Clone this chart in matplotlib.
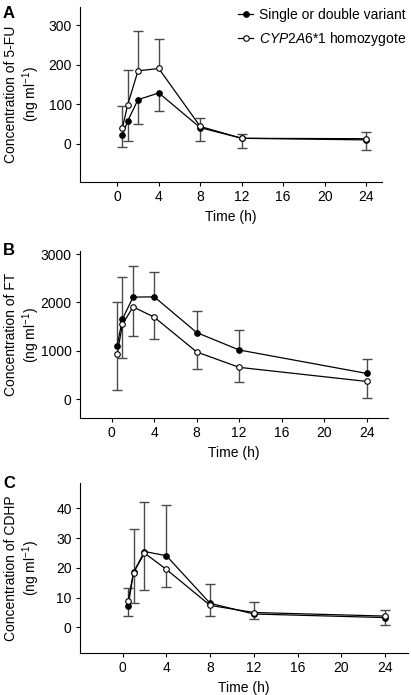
import numpy as np
import matplotlib
matplotlib.use("Agg")
import matplotlib.pyplot as plt
from matplotlib.transforms import blended_transform_factory

plt.rcParams['font.family'] = ['Liberation Sans', 'DejaVu Sans']
plt.rcParams['font.size'] = 10
plt.rcParams['mathtext.fontset'] = 'custom'
plt.rcParams['mathtext.rm'] = 'Liberation Sans'
plt.rcParams['mathtext.it'] = 'Liberation Sans:italic'

# Sampling times (h)
time = [0.5, 1, 2, 4, 8, 12, 24]

# Panel A: 5-FU
fu_variant = [22, 58, 112, 129, 41, 14, 10]
fu_wt = [41, 99, 185, 191, 44, 14, 13]
fu_variant_lo = [31, 50, 62, 45, 34, 24, 26]
fu_variant_hi = [0, 0, 0, 0, 0, 0, 0]
fu_wt_lo = [0, 0, 0, 0, 0, 0, 0]
fu_wt_hi = [55, 88, 102, 75, 22, 11, 16]

# Panel B: FT
ft_variant = [1106, 1655, 2110, 2115, 1376, 1016, 532]
ft_wt = [927, 1545, 1908, 1694, 975, 657, 366]
ft_variant_lo = [0, 0, 0, 0, 0, 0, 0]
ft_variant_hi = [909, 878, 650, 512, 442, 415, 304]
ft_wt_lo = [740, 693, 611, 450, 360, 311, 345]
ft_wt_hi = [0, 0, 0, 0, 0, 0, 0]

# Panel C: CDHP
cd_variant = [7.2, 18.5, 25.5, 24.1, 8.1, 4.5, 3.3]
cd_wt = [9.0, 18.4, 25.0, 19.5, 7.4, 5.0, 3.8]
cd_variant_lo = [3.3, 0, 0, 0, 0, 1.7, 2.5]
cd_variant_hi = [0, 14.6, 16.5, 17.0, 6.6, 0, 0]
cd_wt_lo = [0, 10.3, 12.6, 6.0, 3.5, 0, 0]
cd_wt_hi = [4.3, 0, 0, 0, 0, 3.6, 2.0]

xticks = [0, 4, 8, 12, 16, 20, 24]
err_color = '#4a4a4a'


def draw_bars(ax, y, lo, hi):
    t = np.array(time)
    y = np.array(y, dtype=float)
    lo = np.array(lo, dtype=float)
    hi = np.array(hi, dtype=float)
    ax.vlines(t, y - lo, y + hi, color=err_color, lw=1.0, zorder=1)
    m = lo > 0
    ax.plot(t[m], (y - lo)[m], ls='none', marker='_', ms=6.5, mew=1.0,
            color=err_color, zorder=1)
    m = hi > 0
    ax.plot(t[m], (y + hi)[m], ls='none', marker='_', ms=6.5, mew=1.0,
            color=err_color, zorder=1)


def panel(ax, variant, wt, v_lo, v_hi, w_lo, w_hi, ylabel, yticks, xlim, ylim, letter, label_y):
    draw_bars(ax, variant, v_lo, v_hi)
    draw_bars(ax, wt, w_lo, w_hi)
    ax.plot(time, variant, color='black', lw=0.9, marker='o', ms=4.0,
            mfc='black', mec='black', mew=0.8, zorder=3,
            label='Single or double variant')
    ax.plot(time, wt, color='black', lw=0.9, marker='o', ms=4.0,
            mfc='white', mec='black', mew=0.8, zorder=3,
            label='$\\mathit{CYP2A6{*}1}$ homozygote')
    ax.set_xlim(xlim)
    ax.set_ylim(ylim)
    ax.set_xticks(xticks)
    ax.set_yticks(yticks)
    ax.spines['top'].set_visible(False)
    ax.spines['right'].set_visible(False)
    ax.tick_params(direction='out', length=3, width=0.8, labelsize=10, pad=3)
    ax.set_xlabel('Time (h)', fontsize=10, labelpad=4)
    ax.set_ylabel(ylabel, fontsize=10, multialignment='center', linespacing=1.1)
    ax.yaxis.set_label_coords(41.5 / 411, 0.5,
                              transform=blended_transform_factory(fig.transFigure, ax.transAxes))
    fig.text(3 / 411, 1 - label_y / 695, letter, fontsize=12, fontweight='bold',
             ha='left', va='top')


fig = plt.figure(figsize=(4.11, 6.95), dpi=100)

ax1 = fig.add_axes([0.1946, 0.738, 0.734, 0.252])
ax2 = fig.add_axes([0.1946, 0.3986, 0.749, 0.240])
ax3 = fig.add_axes([0.1946, 0.0609, 0.798, 0.244])

panel(ax1, fu_variant, fu_wt, fu_variant_lo, fu_variant_hi, fu_wt_lo, fu_wt_hi,
      'Concentration of 5-FU\n(ng ml$^{-1}$)', [0, 100, 200, 300],
      (-3.6, 25.5), (-97, 347), 'A', 6)
panel(ax2, ft_variant, ft_wt, ft_variant_lo, ft_variant_hi, ft_wt_lo, ft_wt_hi,
      'Concentration of FT\n(ng ml$^{-1}$)', [0, 1000, 2000, 3000],
      (-3, 26), (-390, 3060), 'B', 243)
panel(ax3, cd_variant, cd_wt, cd_variant_lo, cd_variant_hi, cd_wt_lo, cd_wt_hi,
      'Concentration of CDHP\n(ng ml$^{-1}$)', [0, 10, 20, 30, 40],
      (-3.9, 26.1), (-8.5, 48.5), 'C', 476)

ax1.legend(loc='upper right', bbox_to_anchor=(406 / 411, 1 - 8 / 695),
           bbox_transform=fig.transFigure, frameon=False, fontsize=10,
           handlelength=1.1, handletextpad=0.4, labelspacing=0.55,
           borderpad=0, borderaxespad=0)

plt.savefig('out.png', dpi=100)
